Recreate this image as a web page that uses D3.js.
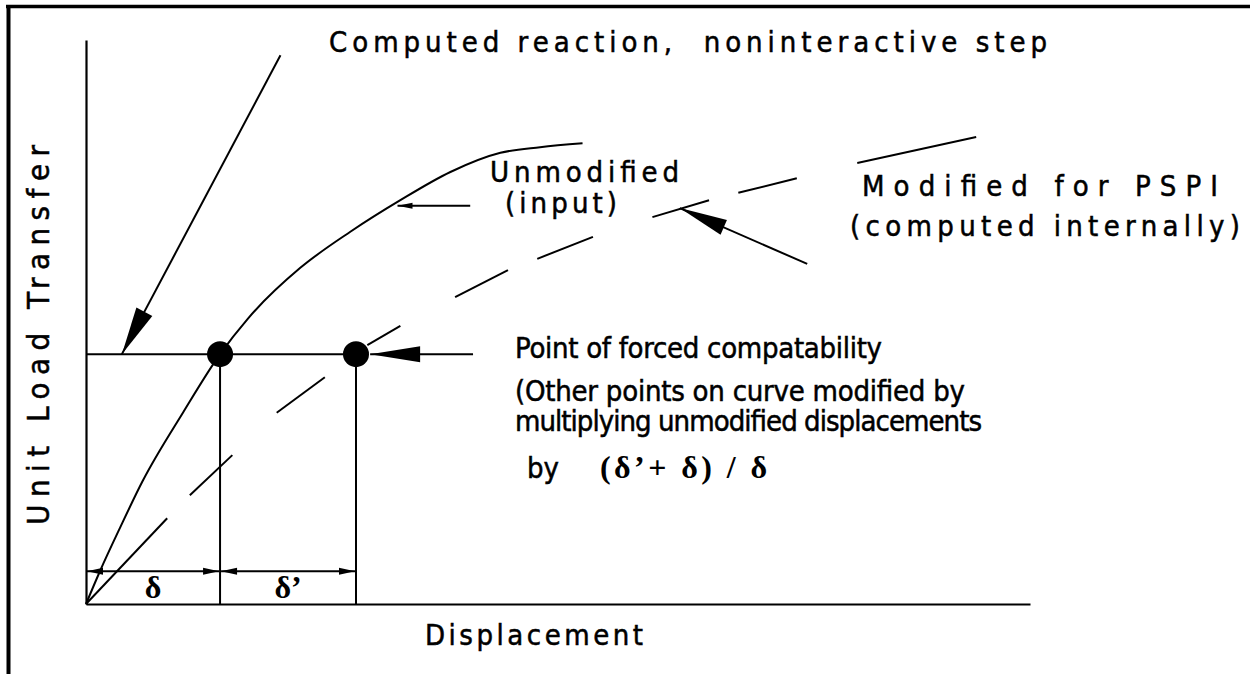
<!doctype html>
<html>
<head>
    <meta charset="utf-8">
    <title>Unit load transfer vs displacement</title>
    <style type="text/css">
        body { margin: 0; background: #fff; }
        .lbl { font-family: "DejaVu Sans Condensed", "DejaVu Sans", sans-serif; font-size: 29px; fill: #000; stroke: #000; stroke-width: 0.5; white-space: pre; }
        .greek { font-family: "Liberation Serif", serif; font-weight: bold; font-size: 32px; fill: #000; white-space: pre; }
        .curve { fill: none; stroke: #000; stroke-width: 2; }
        .axis path { stroke: #000; stroke-width: 2.2; }
    </style>
</head>
<body>
<div id="plot"></div>
<script src="https://d3js.org/d3.v7.min.js"></script>
<script>
    // unmodified (input) curve
    var unmodDisp = [0, 1.5, 3.6, 6.0, 10.3, 14.2, 17.2, 22.7, 28.0, 33.3, 38.6, 43.9, 48.1, 52.6];
    var unmodLoad = [0, 5.9, 13.5, 21.8, 34.0, 44.3, 50.7, 59.6, 66.0, 71.6, 76.6, 80.0, 81.0, 81.7];

    // modified for PSPI curve, dash end points (pen down / pen up)
    var modDisp = [0, 8.6, 11.0, 15.5, 20.2, 25.3, 29.8, 33.3, 39.1, 44.7, 47.8, 53.7, 60.0, 66.0, 69.1, 75.3, 81.7, 94.3];
    var modLoad = [0, 15.2, 19.3, 26.4, 33.9, 40.2, 45.9, 49.3, 54.4, 59.2, 61.2, 65.1, 68.6, 71.6, 72.9, 75.5, 78.2, 82.8];

    // point of forced compatability
    var compatLoad = 44.3;
    var compatDisp = [14.2, 28.6];   // delta, delta + delta'
    var dimLoad = 5.8;               // level of the delta dimension arrows

    // leader arrows: [fromDisp, fromLoad, tipDisp, tipLoad]
    var leaderReaction = [20.6, 97.3, 3.8, 44.3];
    var leaderUnmod = [40.7, 70.6, 33.0, 70.6];
    var leaderMod = [76.4, 60.3, 62.9, 70.2];
    var leaderCompat = [41.0, 44.3, 30.1, 44.3];

    var width = 1250, height = 674;

    var x = d3.scaleLinear().domain([0, 100]).range([86, 1030]);
    var y = d3.scaleLinear().domain([0, 100]).range([604, 40]);

    var svg = d3.select("#plot").append("svg")
        .attr("width", width)
        .attr("height", height);

    // frame (top and left edges only)
    svg.append("line").attr("x1", 6).attr("x2", width).attr("y1", 6.5).attr("y2", 6.5)
        .attr("stroke", "#000").attr("stroke-width", 3.5);
    svg.append("line").attr("x1", 8.5).attr("x2", 8.5).attr("y1", 5).attr("y2", height)
        .attr("stroke", "#000").attr("stroke-width", 4);

    // axes, no ticks
    svg.append("g").attr("class", "axis")
        .attr("transform", "translate(0," + y(0) + ")")
        .call(d3.axisBottom(x).ticks(0).tickSizeOuter(0));
    svg.append("g").attr("class", "axis")
        .attr("transform", "translate(" + x(0) + ",0)")
        .call(d3.axisLeft(y).ticks(0).tickSizeOuter(0));

    // unmodified curve
    var line = d3.line()
        .x(function (d) { return x(d[0]); })
        .y(function (d) { return y(d[1]); })
        .curve(d3.curveMonotoneX);
    svg.append("path")
        .datum(d3.zip(unmodDisp, unmodLoad))
        .attr("class", "curve")
        .attr("d", line);

    // modified curve, drawn as dashes
    var segLine = d3.line().x(function (d) { return x(d[0]); }).y(function (d) { return y(d[1]); });
    var modPts = d3.zip(modDisp, modLoad);
    for (var i = 0; i + 1 < modPts.length; i += 2) {
        svg.append("path").attr("class", "curve").attr("d", segLine([modPts[i], modPts[i + 1]]));
    }

    // compatability lines
    svg.append("line")
        .attr("x1", x(0)).attr("x2", x(compatDisp[1]))
        .attr("y1", y(compatLoad)).attr("y2", y(compatLoad))
        .attr("stroke", "#000").attr("stroke-width", 2);
    svg.selectAll(".drop")
        .data(compatDisp)
        .enter().append("line")
        .attr("class", "drop")
        .attr("x1", function (d) { return x(d); }).attr("x2", function (d) { return x(d); })
        .attr("y1", y(compatLoad)).attr("y2", y(0))
        .attr("stroke", "#000").attr("stroke-width", 2);
    svg.selectAll(".dot")
        .data(compatDisp)
        .enter().append("circle")
        .attr("class", "dot")
        .attr("cx", function (d) { return x(d); })
        .attr("cy", y(compatLoad))
        .attr("r", 13)
        .attr("fill", "#000");

    // arrow head polygon, tip at (tx,ty), pointing away from (fx,fy)
    function head(fx, fy, tx, ty, len, half) {
        var dx = tx - fx, dy = ty - fy, n = Math.sqrt(dx * dx + dy * dy);
        var ux = dx / n, uy = dy / n;
        var bx = tx - ux * len, by = ty - uy * len;
        return [[tx, ty], [bx - uy * half, by + ux * half], [bx + uy * half, by - ux * half]];
    }

    function leader(a, len, half) {
        var fx = x(a[0]), fy = y(a[1]), tx = x(a[2]), ty = y(a[3]);
        svg.append("line").attr("x1", fx).attr("y1", fy).attr("x2", tx).attr("y2", ty)
            .attr("stroke", "#000").attr("stroke-width", 2);
        svg.append("polygon").attr("points", head(fx, fy, tx, ty, len, half).join(" "))
            .attr("fill", "#000");
    }

    leader(leaderReaction, 48, 9);
    leader(leaderUnmod, 15, 3);
    leader(leaderMod, 48, 8);
    leader(leaderCompat, 50, 8);

    // delta dimension arrows
    var dims = [[0, compatDisp[0]], [compatDisp[0], compatDisp[1]]];
    dims.forEach(function (d) {
        var x1 = x(d[0]) + 1, x2 = x(d[1]) - 1, yy = y(dimLoad);
        svg.append("line").attr("x1", x1).attr("x2", x2).attr("y1", yy).attr("y2", yy)
            .attr("stroke", "#000").attr("stroke-width", 2);
        svg.append("polygon").attr("points", head(x2, yy, x1, yy, 16, 3.5).join(" ")).attr("fill", "#000");
        svg.append("polygon").attr("points", head(x1, yy, x2, yy, 16, 3.5).join(" ")).attr("fill", "#000");
    });

    svg.append("text").attr("class", "greek").attr("text-anchor", "middle")
        .attr("x", (x(0) + x(compatDisp[0])) / 2).attr("y", 598).text("δ");
    svg.append("text").attr("class", "greek").attr("text-anchor", "middle")
        .attr("x", (x(compatDisp[0]) + x(compatDisp[1])) / 2).attr("y", 598).text("δ’");

    // labels
    function label(txt, lx, ly, len) {
        var t = svg.append("text").attr("class", "lbl").attr("x", lx).attr("y", ly).text(txt);
        if (len) t.attr("textLength", len).attr("lengthAdjust", "spacing");
        return t;
    }
    label("Computed reaction,  noninteractive step", 329, 52, 718);
    label("Unmodified", 490, 182, 189);
    label("(input)", 505, 213, 112);
    label("Modified for PSPI", 862, 196, 356);
    label("(computed internally)", 850, 236, 390);
    label("Point of forced compatability", 515, 358, 367);
    label("(Other points on curve modified by", 515, 401, 450);
    label("multiplying unmodified displacements", 515, 431, 467);
    label("by", 527, 478);
    label("Displacement", 425, 645, 218);

    svg.append("text").attr("class", "greek").attr("x", 600).attr("y", 478)
        .attr("textLength", 167).attr("lengthAdjust", "spacing")
        .text("(δ’+ δ) / δ");

    svg.append("text").attr("class", "lbl")
        .attr("transform", "translate(49,335) rotate(-90)")
        .attr("text-anchor", "middle")
        .style("font-size", "31px")
        .attr("textLength", 380).attr("lengthAdjust", "spacing")
        .text("Unit Load Transfer");
</script>
</body>
</html>
